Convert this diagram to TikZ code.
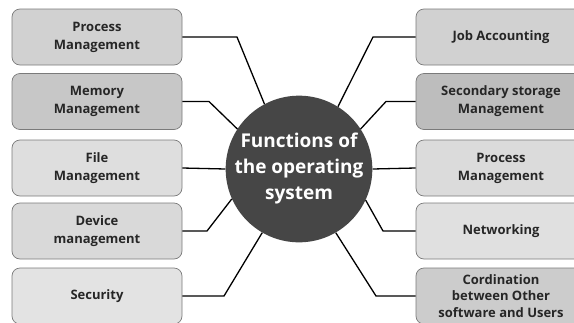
\documentclass[tikz,border=0pt]{standalone}
\usepackage{fontspec}
\setmainfont{Open Sans}
\usetikzlibrary{positioning}
\usetikzlibrary{calc}

\definecolor{boxline}{HTML}{7A7A7A}
\definecolor{osfill}{HTML}{464646}

\begin{document}
\begin{tikzpicture}[x=1pt, y=-1pt,
    fn/.style={draw=boxline, line width=0.7pt, rounded corners=8pt, minimum width=170pt, minimum height=56pt, align=center, inner sep=2pt, font=\fontsize{13}{18}\selectfont\bfseries, text=black!85},
    link/.style={line width=1.3pt, black}]
          \useasboundingbox (0,0) rectangle (574,322);

          \node[circle, fill=osfill, minimum size=144pt, inner sep=0pt, align=center, text=white, font=\fontsize{19}{26}\selectfont\bfseries] (os) at (299, 169) {Functions of\\the operating\\system};

          % left column
          \node[fn, fill=black!18] (l1) at (97, 37) {Process\\Management};
          \node[fn, fill=black!22] (l2) at (97, 101.5) {Memory\\Management};
          \node[fn, fill=black!13] (l3) at (97, 168) {File\\Management};
          \node[fn, fill=black!15] (l4) at (97, 231) {Device\\management};
          \node[fn, fill=black!11] (l5) at (97, 296) {Security};

          % right column
          \node[fn, fill=black!18] (r1) at (501, 37) {Job Accounting};
          \node[fn, fill=black!26] (r2) at (501, 101.5) {Secondary storage\\Management};
          \node[fn, fill=black!14] (r3) at (501, 168) {Process\\Management};
          \node[fn, fill=black!12] (r4) at (501, 231) {Networking};
          \node[fn, fill=black!20, font=\fontsize{13}{16.5}\selectfont\bfseries] (r5) at (501, 296) {Cordination\\between Other\\software and Users};

          \coordinate (k1) at (237, 37);
          \coordinate (k2) at (209, 101.5);
          \coordinate (k4) at (207, 231);
          \coordinate (k5) at (224, 296);
          \coordinate (j1) at (373, 37);
          \coordinate (j2) at (386, 101.5);
          \coordinate (j4) at (383, 231);
          \coordinate (j5) at (376, 296);

          \draw[link] (l1.east) -- (k1) -- (os.118);
          \draw[link] (l2.east) -- (k2) -- (os.147);
          \draw[link] (l3.east) -- (os.180);
          \draw[link] (l4.east) -- (k4) -- (os.204);
          \draw[link] (l5.east) -- (k5) -- (os.240);
          \draw[link] (r1.west) -- (j1) -- (os.58);
          \draw[link] (r2.west) -- (j2) -- (os.33);
          \draw[link] (r3.west) -- (os.0);
          \draw[link] (r4.west) -- (j4) -- (os.335);
          \draw[link] (r5.west) -- (j5) -- (os.300);
        \end{tikzpicture}
\end{document}
